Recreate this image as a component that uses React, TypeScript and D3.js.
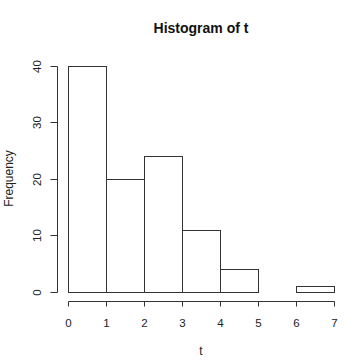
import React, { useRef, useEffect } from "react";
import * as d3 from "d3";

// histogram bins of t and their counts
const binEdges = [0, 1, 2, 3, 4, 5, 6, 7];
const counts = [40, 20, 24, 11, 4, 0, 1];
const xTicks = [0, 1, 2, 3, 4, 5, 6, 7];
const yTicks = [0, 10, 20, 30, 40];

const width = 361;
const height = 362;

const App: React.FC = () => {
  const svgRef = useRef<SVGSVGElement>(null);

  useEffect(() => {
    if (!svgRef.current) return;
    const svg = d3.select(svgRef.current);
    svg.selectAll("*").remove();

    const x = d3.scaleLinear().domain([0, 7]).range([68, 334.3]);
    const y = d3.scaleLinear().domain([0, 40]).range([291.7, 66]);
    const font = "'Liberation Sans', Arial, sans-serif";
    const stroke = "#333";

    const bins = counts.map((c, i) => ({ x0: binEdges[i], x1: binEdges[i + 1], c }));

    // bars
    svg
      .append("g")
      .selectAll("rect")
      .data(bins)
      .enter()
      .append("rect")
      .attr("x", (d) => Math.round(x(d.x0)) + 0.5)
      .attr("y", (d) => Math.round(y(d.c)) + 0.5)
      .attr("width", (d) => Math.round(x(d.x1)) - Math.round(x(d.x0)))
      .attr("height", (d) => Math.round(y(0)) - Math.round(y(d.c)))
      .attr("fill", "white")
      .attr("stroke", stroke)
      .attr("stroke-width", 1);

    // x axis
    const xAxis = svg.append("g").attr("transform", "translate(0.5,301.5)");
    xAxis
      .append("line")
      .attr("x1", Math.round(x(0)))
      .attr("x2", Math.round(x(7)))
      .attr("stroke", stroke);
    xTicks.forEach((t) => {
      const px = Math.round(x(t));
      xAxis.append("line").attr("x1", px).attr("x2", px).attr("y1", 0).attr("y2", 5).attr("stroke", stroke);
      xAxis
        .append("text")
        .attr("x", px)
        .attr("y", 25)
        .attr("text-anchor", "middle")
        .attr("font-family", font)
        .attr("font-size", 11.5)
        .attr("fill", "#222")
        .text(t);
    });

    // y axis
    const yAxis = svg.append("g").attr("transform", "translate(57.5,0.5)");
    yAxis
      .append("line")
      .attr("y1", Math.round(y(0)))
      .attr("y2", Math.round(y(40)))
      .attr("stroke", stroke);
    yTicks.forEach((t) => {
      const py = Math.round(y(t));
      yAxis.append("line").attr("x1", 0).attr("x2", -7).attr("y1", py).attr("y2", py).attr("stroke", stroke);
      yAxis
        .append("text")
        .attr("transform", `translate(-17,${py}) rotate(-90)`)
        .attr("text-anchor", "middle")
        .attr("font-family", font)
        .attr("font-size", 11.5)
        .attr("fill", "#222")
        .text(t);
    });

    // title and axis labels
    svg
      .append("text")
      .attr("x", 201)
      .attr("y", 33)
      .attr("text-anchor", "middle")
      .attr("font-family", font)
      .attr("font-size", 14)
      .attr("font-weight", "bold")
      .attr("fill", "#111")
      .text("Histogram of t");

    svg
      .append("text")
      .attr("x", 201)
      .attr("y", 355)
      .attr("text-anchor", "middle")
      .attr("font-family", font)
      .attr("font-size", 12)
      .attr("fill", "#222")
      .text("t");

    svg
      .append("text")
      .attr("transform", `translate(13,178.5) rotate(-90)`)
      .attr("text-anchor", "middle")
      .attr("font-family", font)
      .attr("font-size", 12)
      .attr("fill", "#222")
      .text("Frequency");
  }, []);

  return (
    <svg
      ref={svgRef}
      width={width}
      height={height}
      style={{ position: "absolute", left: 0, top: 0, background: "white" }}
    ></svg>
  );
};

export default App;
